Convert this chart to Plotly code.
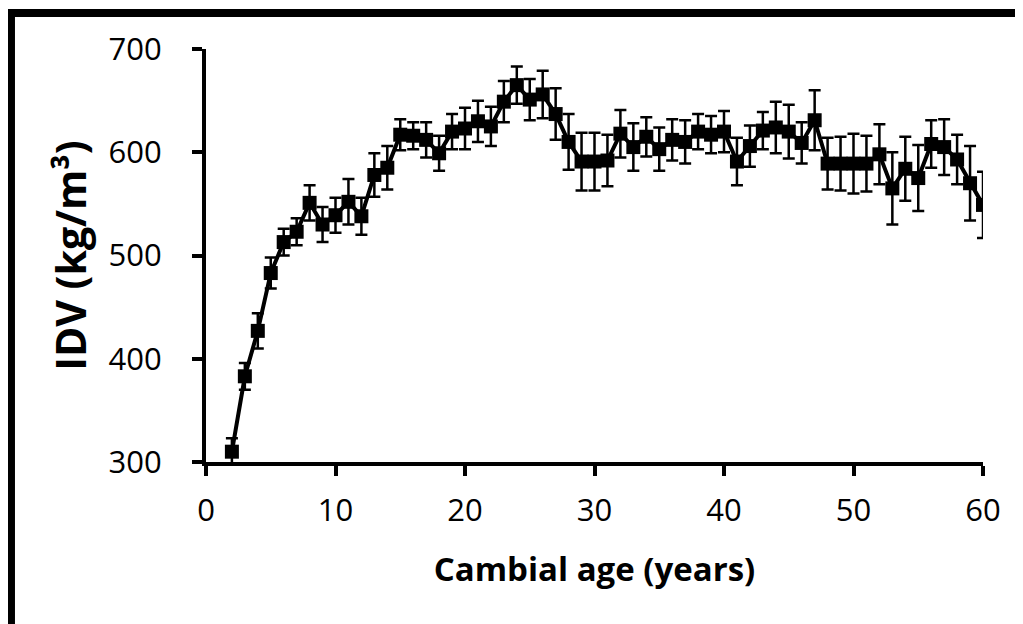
import plotly.graph_objects as go

cambial_age = list(range(2, 61))
idv = [310, 383, 427, 483, 513, 523, 551, 530, 539, 552,
       538, 578, 585, 617, 616, 612, 599, 620, 623, 630,
       625, 649, 665, 651, 656, 637, 610, 591, 591, 592,
       618, 605, 615, 603, 612, 610, 620, 617, 620, 591,
       606, 621, 624, 620, 609, 631, 589, 589, 589, 589,
       598, 565, 584, 575, 608, 605, 593, 570, 549]
idv_err = [13, 13, 17, 15, 13, 13, 17, 17, 17, 22,
           18, 21, 21, 15, 13, 17, 17, 17, 20, 20,
           19, 20, 18, 20, 23, 25, 27, 28, 28, 25,
           23, 23, 19, 21, 20, 21, 17, 18, 20, 23,
           20, 18, 25, 26, 20, 29, 25, 26, 29, 27,
           29, 35, 31, 32, 23, 27, 24, 36, 32]

x_ticks = [0, 10, 20, 30, 40, 50, 60]
y_ticks = [300, 400, 500, 600, 700]

fig = go.Figure()
fig.add_trace(go.Scatter(
    x=cambial_age, y=idv,
    mode="lines+markers",
    line=dict(color="black", width=4),
    marker=dict(symbol="square", size=14, color="black"),
    error_y=dict(type="data", array=idv_err, visible=True,
                 color="black", thickness=2.5, width=6),
    showlegend=False,
))

font_main = "Open Sans, DejaVu Sans, sans-serif"

fig.update_layout(
    width=1015, height=616,
    margin=dict(l=198, r=40, t=41, b=162),
    paper_bgcolor="white", plot_bgcolor="white",
    font=dict(family=font_main, color="black"),
    xaxis=dict(
        range=[0, 60], tickvals=x_ticks, ticktext=[str(v) for v in x_ticks],
        showgrid=False, zeroline=False,
        showline=True, linecolor="black", linewidth=4,
        ticks="outside", ticklen=10, tickwidth=4, tickcolor="black",
        tickfont=dict(size=31, family=font_main, color="black"),
        ticklabelstandoff=8,
        title=dict(text="<b>Cambial age (years)</b>",
                   font=dict(size=33, family=font_main, color="black"),
                   standoff=30),
    ),
    yaxis=dict(
        range=[300, 700], tickvals=y_ticks, ticktext=[str(v) for v in y_ticks],
        showgrid=False, zeroline=False,
        showline=True, linecolor="black", linewidth=4,
        ticks="outside", ticklen=10, tickwidth=4, tickcolor="black",
        tickfont=dict(size=31, family=font_main, color="black"),
        ticklabelstandoff=24,
        title=dict(text="<b>IDV (kg/m³)</b>",
                   font=dict(size=41, family=font_main, color="black"),
                   standoff=10),
    ),
    shapes=[dict(type="rect", xref="paper", yref="paper",
                 x0=-0.251, x1=1.2, y0=-0.6, y1=1.0872,
                 line=dict(color="black", width=8), layer="above")],
)

fig.write_html("out.html")
